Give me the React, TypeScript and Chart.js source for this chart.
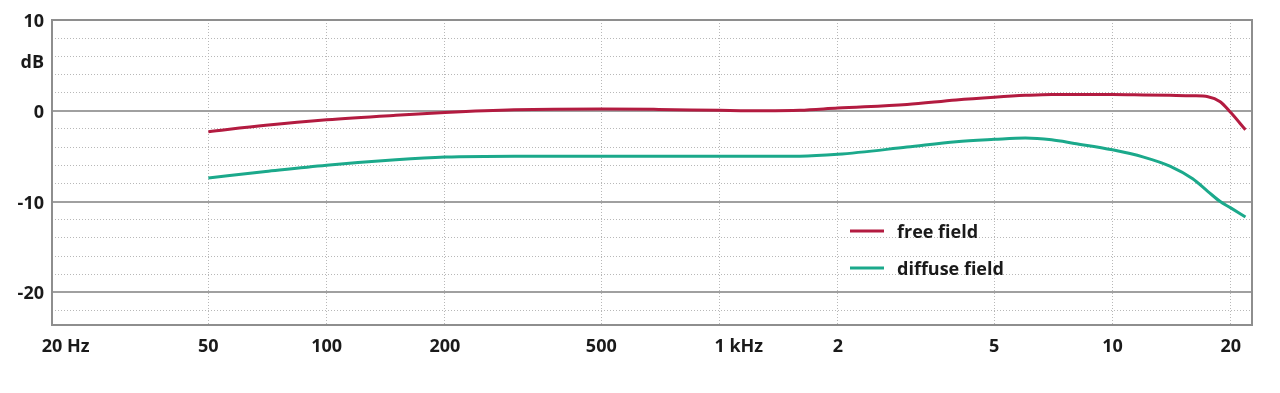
import React, { useEffect, useRef } from "react";
import { Chart, registerables } from "chart.js";

Chart.register(...registerables);

// Frequency (Hz) sample points shared by both response curves
const freqHz = [50, 70, 100, 150, 200, 300, 500, 700, 1000, 1300, 1600, 2000, 3000, 4000, 5000, 6000, 7000, 8000, 10000, 12000, 14000, 16000, 17500, 18800, 20000, 21800];
// Free-field response (dB)
const freeField = [-2.3, -1.6, -1.0, -0.5, -0.2, 0.1, 0.2, 0.15, 0.05, 0.0, 0.05, 0.3, 0.7, 1.2, 1.5, 1.7, 1.8, 1.8, 1.8, 1.75, 1.7, 1.65, 1.55, 1.0, -0.2, -2.1];
// Diffuse-field response (dB)
const diffuseField = [-7.4, -6.7, -6.0, -5.4, -5.1, -5.0, -5.0, -5.0, -5.0, -5.0, -5.0, -4.8, -4.0, -3.4, -3.15, -3.0, -3.2, -3.6, -4.3, -5.1, -6.1, -7.5, -8.9, -10.0, -10.7, -11.7];

const seriesNames = ["free field", "diffuse field"];
const seriesColors = ["#b31b40", "#1ba98b"];

const xTickValues = [20, 50, 100, 200, 500, 1000, 2000, 5000, 10000, 20000];
const xTickLabels = ["20 Hz", "50", "100", "200", "500", "1 kHz", "2", "5", "10", "20"];
const yMajorTicks = [-20, -10, 0, 10];
const yMinorTicks = [-22, -18, -16, -14, -12, -8, -6, -4, -2, 2, 4, 6, 8];
const yUnit = "dB";

const X_MIN = 20;
const X_MAX = 22650;
const Y_MIN = -23.6;
const Y_MAX = 10;

const FONT = '"Open Sans", "DejaVu Sans", sans-serif';
const TEXT = "#1a1a1a";

const decorPlugin = {
  id: "decor",
  beforeDatasetsDraw(chart: any) {
    const { ctx, chartArea: ca } = chart;
    ctx.save();
    ctx.strokeStyle = "#8e8e8e";
    ctx.lineWidth = 2;
    ctx.strokeRect(ca.left, ca.top, ca.right - ca.left, ca.bottom - ca.top);
    ctx.restore();
  },
  afterDraw(chart: any) {
    const { ctx, chartArea: ca, scales } = chart;
    ctx.save();
    ctx.fillStyle = TEXT;
    ctx.font = `bold 18px ${FONT}`;
    ctx.textBaseline = "alphabetic";
    ctx.textAlign = "left";
    xTickValues.forEach((v, i) => {
      const px = scales.x.getPixelForValue(v);
      const label = xTickLabels[i];
      const num = label.split(" ")[0];
      const w = ctx.measureText(num).width;
      ctx.fillText(label, px - w / 2, ca.bottom + 27);
    });
    ctx.textAlign = "right";
    ctx.fillText(yUnit, ca.left - 8, ca.top + 48);

    // legend inside the plot area
    const lx = ca.left + (ca.right - ca.left) * 0.665;
    const rows = [ca.top + 211, ca.top + 248];
    seriesNames.forEach((name, i) => {
      const y = rows[i];
      ctx.strokeStyle = seriesColors[i];
      ctx.lineWidth = 3;
      ctx.beginPath();
      ctx.moveTo(lx, y);
      ctx.lineTo(lx + 34, y);
      ctx.stroke();
      ctx.textAlign = "left";
      ctx.font = `bold 18px ${FONT}`;
      ctx.fillText(name, lx + 47, y + 7);
    });
    ctx.restore();
  },
};

export default function App() {
  const canvasRef = useRef<HTMLCanvasElement | null>(null);

  useEffect(() => {
    if (!canvasRef.current) return;
    const makeData = (vals: number[]) => freqHz.map((f, i) => ({ x: f, y: vals[i] }));
    const chart = new Chart(canvasRef.current, {
      type: "line",
      data: {
        datasets: [
          {
            label: seriesNames[0],
            data: makeData(freeField),
            borderColor: seriesColors[0],
            borderWidth: 3,
            pointRadius: 0,
            cubicInterpolationMode: "monotone",
          },
          {
            label: seriesNames[1],
            data: makeData(diffuseField),
            borderColor: seriesColors[1],
            borderWidth: 3,
            pointRadius: 0,
            cubicInterpolationMode: "monotone",
          },
        ],
      },
      options: {
        animation: false,
        responsive: true,
        maintainAspectRatio: false,
        layout: { padding: { top: 20, right: 28, left: 0, bottom: 0 } },
        plugins: { legend: { display: false }, tooltip: { enabled: false } },
        scales: {
          x: {
            type: "logarithmic",
            min: X_MIN,
            max: X_MAX,
            afterBuildTicks: (scale: any) => {
              scale.ticks = xTickValues.map((v) => ({ value: v }));
            },
            afterFit: (scale: any) => {
              scale.height = 68;
            },
            ticks: { display: false },
            grid: {
              drawTicks: false,
              color: (ctx: any) => (ctx.tick && ctx.tick.value === X_MIN ? "rgba(0,0,0,0)" : "#b8b8b8"),
              lineWidth: 1,
            },
            border: { display: false, dash: [1, 2] },
          },
          yMinor: {
            type: "linear",
            position: "left",
            min: Y_MIN,
            max: Y_MAX,
            afterBuildTicks: (scale: any) => {
              scale.ticks = yMinorTicks.map((v) => ({ value: v }));
            },
            afterFit: (scale: any) => {
              scale.width = 0;
            },
            ticks: { display: false },
            grid: { drawTicks: false, color: "#b8b8b8", lineWidth: 1 },
            border: { display: false, dash: [1, 2] },
          },
          y: {
            type: "linear",
            position: "left",
            min: Y_MIN,
            max: Y_MAX,
            afterBuildTicks: (scale: any) => {
              scale.ticks = yMajorTicks.map((v) => ({ value: v }));
            },
            afterFit: (scale: any) => {
              scale.width = 52;
            },
            ticks: {
              color: TEXT,
              font: { family: FONT, size: 18, weight: "bold" },
              padding: 8,
              labelOffset: 2,
              callback: (v: any) => String(v),
            },
            grid: {
              drawTicks: false,
              color: (ctx: any) => (ctx.tick && ctx.tick.value === Y_MAX ? "rgba(0,0,0,0)" : "#a0a0a0"),
              lineWidth: 2,
            },
            border: { display: false },
          },
        },
      },
      plugins: [decorPlugin],
    } as any);
    return () => chart.destroy();
  }, []);

  return (
    <div style={{ position: "fixed", left: 0, top: 0, width: 1280, height: 393, background: "#fff" }}>
      <canvas ref={canvasRef} />
    </div>
  );
}
